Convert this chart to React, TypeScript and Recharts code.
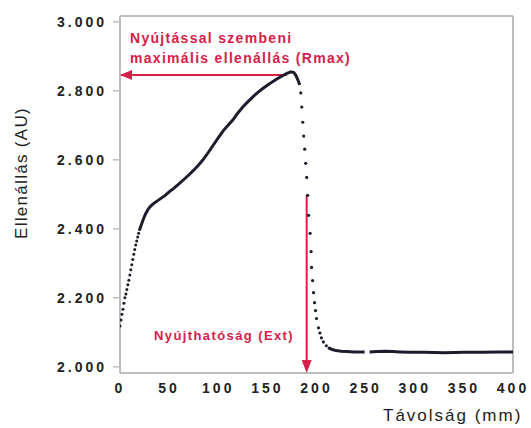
import {
  ComposedChart, Scatter, XAxis, YAxis, ReferenceLine, ReferenceDot
} from 'recharts'

// distance (mm) / resistance (AU, x1000 shown as "2.000")
const riseSparseX = [0, 1, 2, 3, 4, 5, 6, 7, 8, 9, 10, 11, 12, 13, 14, 15, 16, 17, 18, 19, 20]
const riseSparseY = [2118, 2136, 2152, 2167, 2184, 2200, 2211, 2224, 2238, 2251, 2266, 2281, 2296, 2311, 2326, 2340, 2353, 2365, 2376, 2387, 2398]

const riseX = [20, 22, 24, 26, 28, 30, 32, 35, 38, 42, 46, 50, 55, 60, 65, 70, 75, 80, 85, 90, 95, 100, 105, 110, 115, 120, 125, 130, 135, 140, 145, 150, 155, 160, 165, 170, 174, 177, 179, 181, 183]
const riseY = [2398, 2414, 2430, 2443, 2454, 2462, 2468, 2475, 2481, 2489, 2497, 2507, 2518, 2530, 2543, 2556, 2570, 2585, 2602, 2622, 2643, 2664, 2684, 2700, 2716, 2736, 2753, 2768, 2782, 2795, 2806, 2816, 2826, 2835, 2843, 2851, 2855, 2853, 2845, 2832, 2817]

const dropX = [184, 185, 186, 187, 188, 189, 190, 191, 192, 193.5, 194.5, 195, 196, 197, 198, 199, 200, 202, 203.5, 205, 207, 210, 213]
const dropY = [2794, 2753, 2709, 2669, 2631, 2590, 2549, 2497, 2439, 2387, 2334, 2288, 2250, 2215, 2186, 2163, 2140, 2113, 2098, 2084, 2072, 2061, 2054]

const flatAX = [213, 216, 220, 225, 231, 238, 244, 249]
const flatAY = [2054, 2050, 2047, 2045, 2044, 2043, 2043, 2043]
const flatBX = [254, 262, 270, 278, 285, 295, 310, 330, 350, 370, 385, 400]
const flatBY = [2043, 2044, 2045, 2044, 2043, 2042, 2042, 2041, 2042, 2042, 2043, 2043]

const xTicks = [0, 50, 100, 150, 200, 250, 300, 350, 400]
const yTicks = [2000, 2200, 2400, 2600, 2800, 3000]

const rmax = 2846
const ext = 190

const pts = (xs: number[], ys: number[]) => xs.map((x, i) => ({ x, y: ys[i] }))

const DOT = '#1b1d2b'
const RED = '#d6204a'
const GREY = '#bdbdbd'
const FONT = '"Liberation Sans", Arial, sans-serif'

const dot = (r: number) => (p: any) => <circle cx={p.cx} cy={p.cy} r={r} fill={DOT} />
const none = () => <g />

export default function App() {
  const tick = { fontFamily: FONT, fontWeight: 700, fontSize: 14, fill: '#222', letterSpacing: 3 }
  return (
    <div style={{ position: 'fixed', left: 0, top: 0, width: 531, height: 428, background: '#fff', fontFamily: FONT, overflow: 'hidden' }}>
      <ComposedChart width={531} height={428} margin={{ top: 16, right: 18, bottom: 0, left: 0 }}>
        <XAxis
          type="number" dataKey="x" domain={[0, 400]} ticks={xTicks} allowDataOverflow
          height={55} tickLine={false} tickSize={6} tickMargin={4}
          axisLine={{ stroke: GREY, strokeWidth: 2 }} tick={tick}
        />
        <YAxis
          type="number" dataKey="y" domain={[1982, 3017]} ticks={yTicks} allowDataOverflow
          width={120} tickSize={7} tickMargin={6} tickFormatter={(v: number) => (v / 1000).toFixed(3)}
          axisLine={{ stroke: GREY, strokeWidth: 2 }} tickLine={{ stroke: GREY, strokeWidth: 1.5 }} tick={tick}
        />
        <ReferenceLine y={3017} stroke={GREY} strokeWidth={2} ifOverflow="visible" />
        <ReferenceLine x={400} stroke={GREY} strokeWidth={2} ifOverflow="visible" />

        <ReferenceLine segment={[{ x: 0, y: rmax }, { x: 170, y: rmax }]} stroke={RED} strokeWidth={2} ifOverflow="visible" />
        <ReferenceDot x={0} y={rmax} ifOverflow="visible"
          shape={(p: any) => <polygon points={`${p.cx},${p.cy} ${p.cx + 12},${p.cy - 5} ${p.cx + 12},${p.cy + 5}`} fill={RED} />} />
        <ReferenceLine segment={[{ x: ext, y: 2498 }, { x: ext, y: 1995 }]} stroke={RED} strokeWidth={2} ifOverflow="visible" />
        <ReferenceDot x={ext} y={1982} ifOverflow="visible"
          shape={(p: any) => <polygon points={`${p.cx},${p.cy} ${p.cx - 5},${p.cy - 13} ${p.cx + 5},${p.cy - 13}`} fill={RED} />} />

        <Scatter data={pts(riseSparseX, riseSparseY)} shape={dot(1.5)} isAnimationActive={false} />
        <Scatter data={pts(riseX, riseY)} line={{ stroke: DOT, strokeWidth: 3 }} shape={none} isAnimationActive={false} />
        <Scatter data={pts(dropX, dropY)} shape={dot(1.6)} isAnimationActive={false} />
        <Scatter data={pts(flatAX, flatAY)} line={{ stroke: DOT, strokeWidth: 3 }} shape={none} isAnimationActive={false} />
        <Scatter data={pts(flatBX, flatBY)} line={{ stroke: DOT, strokeWidth: 3 }} shape={none} isAnimationActive={false} />
      </ComposedChart>

      <div style={{ position: 'absolute', left: 130, top: 28, color: RED, fontWeight: 700, fontSize: 14, lineHeight: '20px', letterSpacing: 1.3, whiteSpace: 'nowrap' }}>
        <div>Nyújtással szembeni</div>
        <div>maximális ellenállás (Rmax)</div>
      </div>
      <div style={{ position: 'absolute', left: 154, top: 328, color: RED, fontWeight: 700, fontSize: 13, letterSpacing: 1.4, whiteSpace: 'nowrap' }}>
        Nyújthatóság (Ext)
      </div>
      <div style={{ position: 'absolute', left: 22, top: 173, transform: 'translate(-50%, -50%) rotate(-90deg)', fontSize: 17, letterSpacing: 1.3, color: '#222', whiteSpace: 'nowrap' }}>
        Ellenállás (AU)
      </div>
      <div style={{ position: 'absolute', left: 383, top: 406, fontSize: 17, letterSpacing: 2, color: '#222', whiteSpace: 'nowrap' }}>
        Távolság (mm)
      </div>
    </div>
  )
}
